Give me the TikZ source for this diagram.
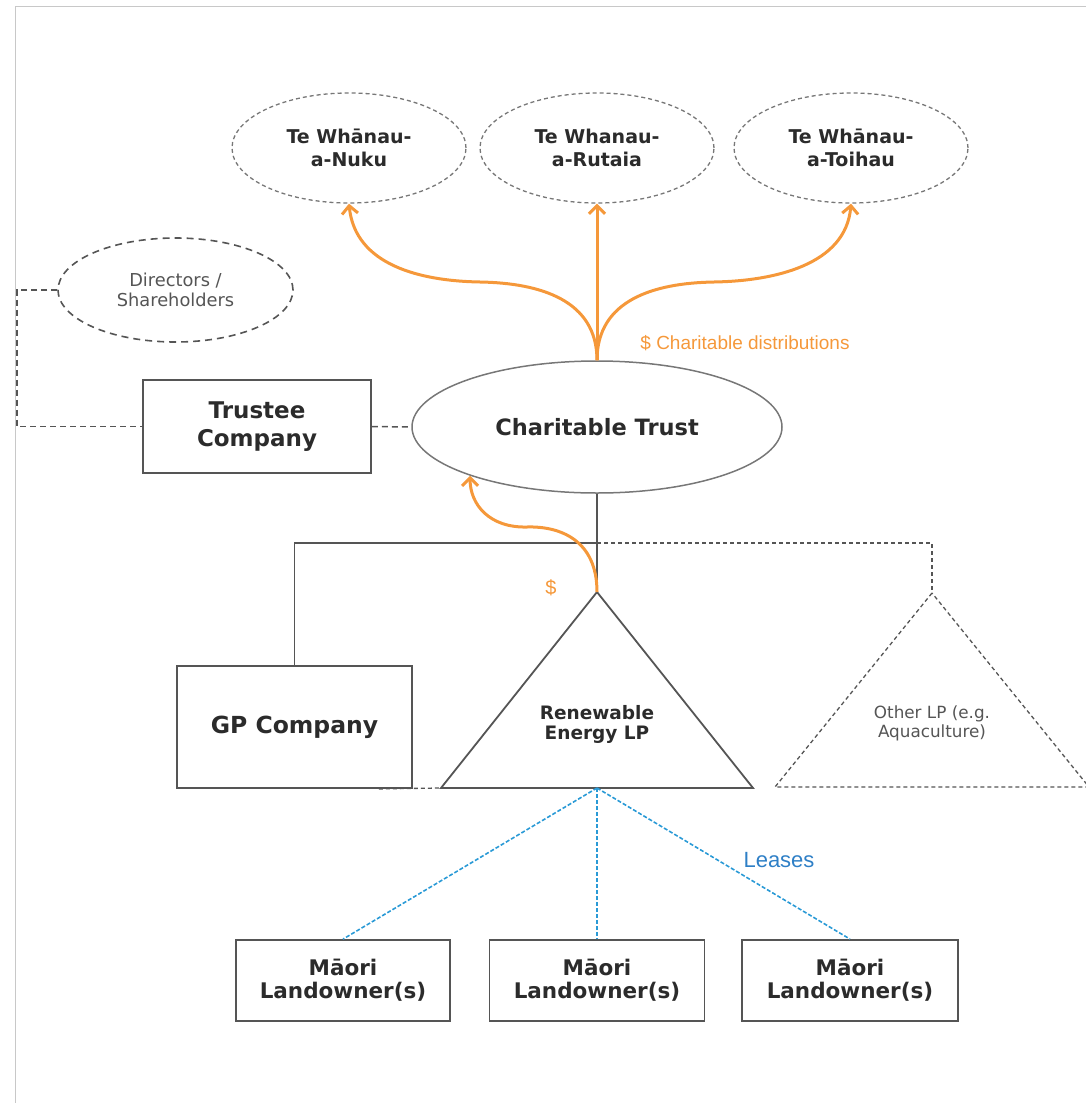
\documentclass[tikz,border=0pt]{standalone}
\usepackage{fontspec}
\setmainfont{DejaVu Sans}
\newfontfamily\arialf{Liberation Sans}
\usetikzlibrary{shapes.geometric,arrows.meta,calc}
\definecolor{txt}{HTML}{2B2B2B}
\definecolor{ln}{HTML}{555555}
\definecolor{dl}{HTML}{777777}
\definecolor{frm}{HTML}{C8C8C8}
\definecolor{org}{HTML}{F5983A}
\definecolor{lblue}{HTML}{2A9AD6}
\definecolor{tblue}{HTML}{2E7FC6}
\begin{document}
\begin{tikzpicture}[x=1pt,y=-1pt,
  topell/.style={ellipse,draw=dl,line width=1.3pt,dash pattern=on 4pt off 3pt,
    minimum width=234pt,minimum height=110pt,inner sep=0pt,align=center,text=txt,
    font=\bfseries\fontsize{19}{23}\selectfont},
  boxnode/.style={rectangle,draw=ln,line width=1.8pt,inner sep=0pt,align=center,text=txt},
  solidln/.style={draw=ln,line width=1.8pt},
  dashln/.style={draw=ln,line width=1.5pt,dash pattern=on 6pt off 4pt},
  fineDash/.style={draw=dl,line width=1.3pt,dash pattern=on 4pt off 3pt},
  lease/.style={draw=lblue,line width=1.6pt,dash pattern=on 4pt off 2pt},
  money/.style={draw=org,line width=3pt,-{Straight Barb[length=8pt,width=16pt]}},
  landbox/.style={boxnode,minimum height=81pt,font=\bfseries\fontsize{21.5}{23}\selectfont}
]
\useasboundingbox (0,0) rectangle (1086,1103);
% frame
\draw[frm,line width=1.5pt] (15.5,1103) -- (15.5,6.5) -- (1086,6.5);

% top ellipses
\node[topell] (e1) at (349,148) {Te Whānau-\\a-Nuku};
\node[topell] (e2) at (597,148) {Te Whanau-\\a-Rutaia};
\node[topell] (e3) at (851,148) {Te Whānau-\\a-Toihau};

% directors
\node[ellipse,draw=ln,line width=1.6pt,dash pattern=on 7pt off 5pt,
  minimum width=235pt,minimum height=104pt,inner sep=0pt,align=center,
  text=ln,font=\fontsize{17.8}{20}\selectfont] (dir) at (175.5,290) {Directors /\\Shareholders};

% trustee company
\node[boxnode,minimum width=228pt,minimum height=93pt,
  font=\bfseries\fontsize{23}{28}\selectfont] (tc) at (257,426.5) {Trustee\\Company};

% charitable trust
\node[ellipse,draw=dl,line width=1.5pt,minimum width=370pt,minimum height=132pt,
  inner sep=0pt,text=txt,font=\bfseries\fontsize{22.5}{26}\selectfont] (ct) at (597,427) {Charitable Trust};

% label distributions
\node[text=org,font=\arialf\fontsize{19}{22}\selectfont,inner sep=0pt] (cd) at (745,343) {\$ Charitable distributions};

% GP company
\node[boxnode,minimum width=235pt,minimum height=122pt,
  font=\bfseries\fontsize{23.5}{28}\selectfont] (gp) at (294.5,727) {GP Company};

% Renewable Energy LP triangle
\coordinate (rapex) at (597,592);
\coordinate (rl) at (441,788);
\coordinate (rr) at (753,788);
\coordinate (rbase) at (597,788);
\draw[solidln,line join=miter] (rapex) -- (rl) -- (rr) -- cycle;
\node[align=center,text=txt,inner sep=0pt,font=\bfseries\fontsize{18.5}{20}\selectfont] (rel) at (597,724) {Renewable\\Energy LP};

% Other LP triangle
\coordinate (oapex) at (932,593);
\coordinate (ol) at (775,787);
\coordinate (or) at (1089,787);
\draw[fineDash,draw=ln] (oapex) -- (ol) -- (or) -- cycle;
\node[align=center,text=ln,inner sep=0pt,font=\fontsize{16.8}{19}\selectfont] (olp) at (932,723) {Other LP (e.g.\\Aquaculture)};

% structure connectors
\coordinate (j) at (597,543);
\coordinate (lx) at (17,0);
\draw[solidln] (ct.south) -- (rapex);
\draw[solidln] (j) -| (gp.north);
\draw[fineDash,draw=ln] (j) -| (oapex);
\draw[dashln] (dir.west) -- (dir.west -| lx) |- (tc.west);
\draw[dashln] (tc.east) -- (ct.west);
\draw[fineDash,draw=ln] ([xshift=-34pt]gp.south east) -- (rl);

% landowners
\node[landbox,minimum width=214pt] (m1) at (343,980.5) {Māori\\Landowner(s)};
\node[landbox,minimum width=215pt] (m2) at (597,980.5) {Māori\\Landowner(s)};
\node[landbox,minimum width=216pt] (m3) at (850,980.5) {Māori\\Landowner(s)};
\draw[lease] (rbase) -- (m1.north);
\draw[lease] (rbase) -- (m2.north);
\draw[lease] (rbase) -- (m3.north);
\node[text=tblue,font=\arialf\fontsize{22}{24}\selectfont,inner sep=0pt] (lea) at (779,860) {Leases};

% money flows
\draw[money] (ct.north) -- (e2.south);
\draw[money] (ct.north) .. controls (597,300) and (540,283) .. (480,282) .. controls (420,281) and (355,265) .. (e1.south);
\draw[money] (ct.north) .. controls (597,300) and (654,283) .. (714,282) .. controls (774,281) and (846,265) .. (e3.south);
\draw[money] (rapex) .. controls (597,540) and (560,526) .. (527,527) .. controls (490,528) and (470,505) .. (ct.201);
\node[text=org,font=\arialf\fontsize{20}{22}\selectfont,inner sep=0pt] (dl1) at (551,588) {\$};
\end{tikzpicture}
\end{document}
